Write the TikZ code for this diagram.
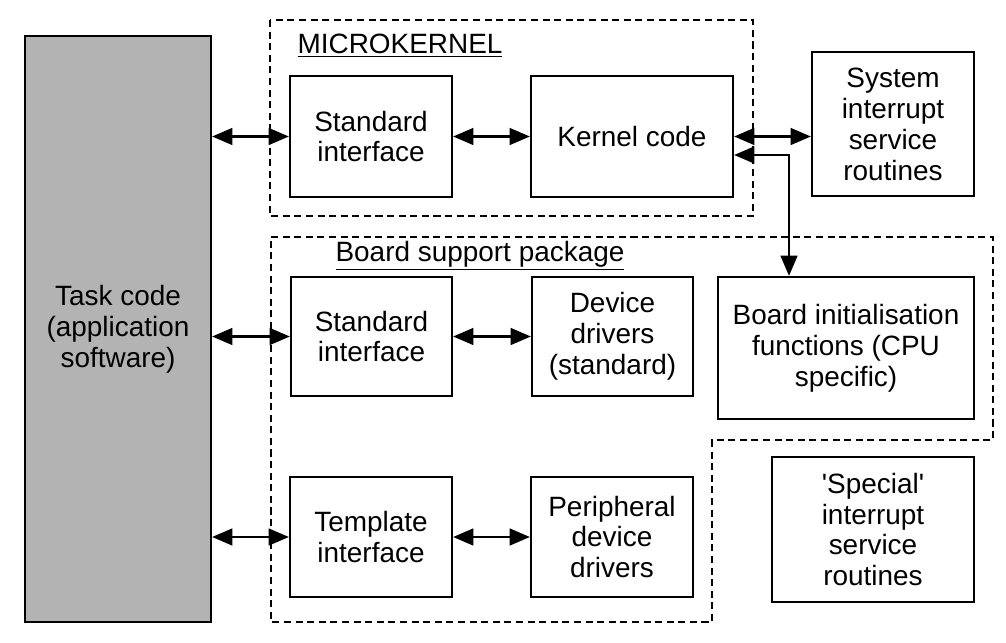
\documentclass[tikz,border=0pt]{standalone}
\usepackage{fontspec}
\setmainfont{Liberation Sans}
\usepackage{tikz}
\usetikzlibrary{arrows.meta,shapes}
\definecolor{taskgray}{HTML}{B3B3B3}
\newcommand{\blkfont}{\fontsize{15.9}{17.6}\selectfont}
\tikzstyle{blk}=[draw=black, line width=1.3pt, fill=white, align=center,
                inner sep=0pt, font=\blkfont, text=black]
\tikzstyle{grp}=[draw=black, line width=1.1pt, dash pattern=on 4pt off 2.6pt]
\tikzstyle{glabel}=[font=\blkfont, inner sep=0pt, text=black]
\tikzstyle{lnk}=[{Triangle[length=11.5pt,width=9.5pt]}-{Triangle[length=11.5pt,width=9.5pt]},
                line width=1.3pt]

\begin{document}
\begin{tikzpicture}[x=0.02cm, y=-0.02cm]
\path[use as bounding box] (0,0) rectangle (1006,642);
% dashed groups
\draw[grp] (270,20) rectangle (753,216);
\draw[grp] (271,237) -- (993,237) -- (993,440) -- (712,440) -- (712,622)
  -- (271,622) -- cycle;
\node[glabel] (mklabel) at (400,46) {\underline{MICROKERNEL}};
\node[glabel] (bsplabel) at (480,256) {\underline{Board support package}};
% blocks
\node[blk, fill=taskgray, minimum width=3.72cm, minimum height=11.72cm]
  (task) at (118,329) {Task code\\(application\\software)};
\node[blk, minimum width=3.24cm, minimum height=2.42cm] (stdk) at (371,136.5)
  {Standard\\interface};
\node[blk, minimum width=4.04cm, minimum height=2.42cm] (kern) at (632,136.5)
  {Kernel code};
\node[blk, minimum width=3.24cm, minimum height=2.88cm] (sysisr) at (893,124)
  {System\\interrupt\\service\\routines};
\node[blk, minimum width=3.22cm, minimum height=2.38cm] (stdb) at (371.5,336.5)
  {Standard\\interface};
\node[blk, minimum width=3.22cm, minimum height=2.38cm] (devdrv) at (612.5,336.5)
  {Device\\drivers\\(standard)};
\node[blk, minimum width=5.12cm, minimum height=2.84cm] (binit) at (846,348)
  {Board initialisation\\functions (CPU\\specific)};
\node[blk, minimum width=3.24cm, minimum height=2.4cm] (tmpl) at (371,537)
  {Template\\interface};
\node[blk, minimum width=3.24cm, minimum height=2.4cm] (periph) at (612,537)
  {Peripheral\\device\\drivers};
\node[blk, minimum width=4.04cm, minimum height=2.9cm] (spisr) at (873,529.5)
  {\textquotesingle Special\textquotesingle\\interrupt\\service\\routines};
\coordinate (bend) at (789,155);
% links
\path[lnk]
  (task.east |- stdk.west) edge (stdk.west)
  (stdk) edge (kern)
  (kern.east) edge (kern.east -| sysisr.west)
  (task.east |- stdb.west) edge (stdb.west)
  (stdb) edge (devdrv)
  (task.east |- tmpl.west) edge (tmpl.west)
  (tmpl) edge (periph);
\draw[lnk] (kern.east |- bend) -- (bend) -- (bend |- binit.north);
\end{tikzpicture}
\end{document}
